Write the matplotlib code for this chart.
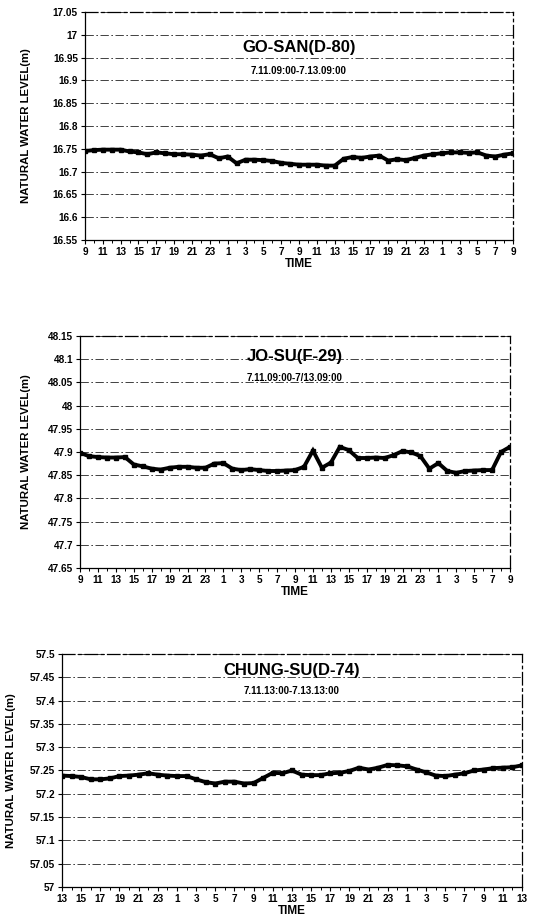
import numpy as np
import matplotlib
matplotlib.use('Agg')
import matplotlib.pyplot as plt
from matplotlib.ticker import FuncFormatter, MultipleLocator

plt.rcParams['font.family'] = ['Liberation Sans', 'DejaVu Sans']

# hourly readings, 49 points (48 h) per station
GOSAN_LEVEL = [16.745, 16.747, 16.748, 16.748, 16.748, 16.744, 16.742, 16.738, 16.742, 16.740,
               16.738, 16.738, 16.737, 16.735, 16.738, 16.729, 16.733, 16.718, 16.726, 16.726,
               16.725, 16.723, 16.719, 16.717, 16.715, 16.715, 16.715, 16.713, 16.713, 16.728,
               16.732, 16.730, 16.733, 16.735, 16.724, 16.727, 16.725, 16.730, 16.735, 16.738,
               16.740, 16.742, 16.742, 16.741, 16.742, 16.735, 16.733, 16.737, 16.740]
JOSU_LEVEL = [47.898, 47.891, 47.889, 47.888, 47.888, 47.889, 47.873, 47.869, 47.864, 47.862,
              47.866, 47.868, 47.868, 47.866, 47.866, 47.875, 47.876, 47.864, 47.861, 47.863,
              47.861, 47.859, 47.859, 47.860, 47.861, 47.868, 47.903, 47.866, 47.877, 47.911,
              47.904, 47.887, 47.887, 47.888, 47.887, 47.893, 47.902, 47.899, 47.891, 47.864,
              47.876, 47.859, 47.855, 47.859, 47.860, 47.861, 47.861, 47.900, 47.911]
CHUNGSU_LEVEL = [57.239, 57.238, 57.236, 57.231, 57.231, 57.233, 57.238, 57.239, 57.241, 57.244,
                 57.241, 57.239, 57.238, 57.238, 57.231, 57.225, 57.222, 57.226, 57.226, 57.222,
                 57.223, 57.234, 57.245, 57.244, 57.250, 57.241, 57.240, 57.240, 57.244, 57.245,
                 57.249, 57.256, 57.252, 57.256, 57.262, 57.261, 57.259, 57.252, 57.246, 57.239,
                 57.238, 57.241, 57.244, 57.250, 57.252, 57.255, 57.256, 57.257, 57.261]

HOURS_FROM_9 = ['9', '11', '13', '15', '17', '19', '21', '23', '1', '3', '5', '7', '9',
                '11', '13', '15', '17', '19', '21', '23', '1', '3', '5', '7', '9']
HOURS_FROM_13 = ['13', '15', '17', '19', '21', '23', '1', '3', '5', '7', '9', '11', '13',
                 '15', '17', '19', '21', '23', '1', '3', '5', '7', '9', '11', '13']

PANELS = [
    dict(title='GO-SAN(D-80)', period='7.11.09:00-7.13.09:00', level=GOSAN_LEVEL,
         labels=HOURS_FROM_9, ylim=(16.55, 17.05),
         rect=[0.159, 0.7386, 0.802, 0.2484], title_y=0.845, period_y=0.74, ylab_x=-0.125),
    dict(title='JO-SU(F-29)', period='7.11.09:00-7/13.09:00', level=JOSU_LEVEL,
         labels=HOURS_FROM_9, ylim=(47.65, 48.15),
         rect=[0.150, 0.3813, 0.805, 0.2527], title_y=0.91, period_y=0.82, ylab_x=-0.115),
    dict(title='CHUNG-SU(D-74)', period='7.11.13:00-7.13.13:00', level=CHUNGSU_LEVEL,
         labels=HOURS_FROM_13, ylim=(57.0, 57.5),
         rect=[0.116, 0.0338, 0.8615, 0.2538], title_y=0.93, period_y=0.84, ylab_x=-0.1),
]

fig = plt.figure(figsize=(5.34, 9.18), dpi=100)

for p in PANELS:
    ax = fig.add_axes(p['rect'])
    x = np.arange(len(p['level']))
    ax.plot(x, p['level'], color='black', lw=2.8, marker='s', ms=2.5, solid_joinstyle='miter')

    lo, hi = p['ylim']
    ax.set_ylim(lo, hi)
    ax.set_xlim(0, len(p['level']) - 1)
    ax.yaxis.set_major_locator(MultipleLocator(0.05))
    ax.yaxis.set_major_formatter(FuncFormatter(lambda v, pos: '%g' % round(v, 2)))
    ax.set_xticks(np.arange(0, len(p['level']), 2))
    ax.set_xticklabels(p['labels'])
    ax.xaxis.set_minor_locator(MultipleLocator(1))

    ax.grid(axis='y', color='#222222', lw=0.6, linestyle=(0, (10, 3, 2, 3)))
    ax.tick_params(axis='both', which='major', direction='out', length=3, width=0.8,
                   labelsize=7.2, pad=2)
    ax.tick_params(axis='x', which='minor', direction='out', length=2, width=0.7)
    for lab in ax.get_xticklabels() + ax.get_yticklabels():
        lab.set_fontweight('bold')
    for sp in ax.spines.values():
        sp.set_linewidth(0.9)
    ax.spines['top'].set_linestyle((0, (10, 3, 2, 3)))
    ax.spines['right'].set_linestyle((0, (10, 3, 2, 3)))

    ax.set_xlabel('TIME', fontsize=8.5, fontweight='bold', labelpad=1)
    ax.set_ylabel('NATURAL WATER LEVEL(m)', fontsize=8.2, fontweight='bold')
    ax.yaxis.set_label_coords(p['ylab_x'], 0.5)

    ax.text(0.5, p['title_y'], p['title'], transform=ax.transAxes, ha='center', va='center',
            fontsize=12, fontweight='bold')
    ax.text(0.5, p['period_y'], p['period'], transform=ax.transAxes, ha='center', va='center',
            fontsize=7, fontweight='bold')

fig.savefig('out.png', dpi=100)
